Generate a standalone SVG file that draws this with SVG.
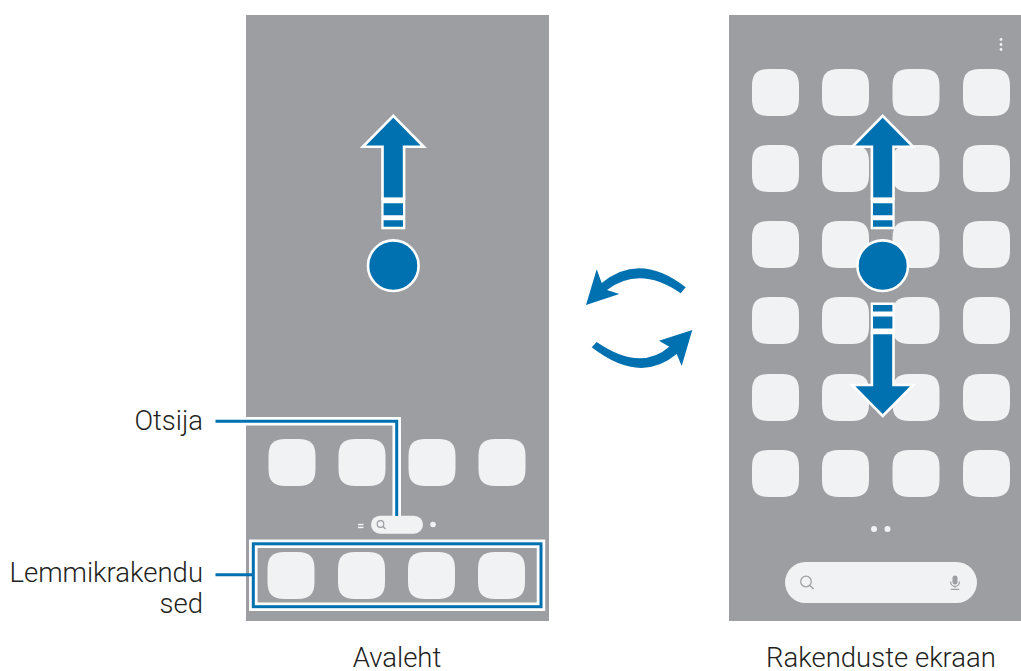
<svg xmlns="http://www.w3.org/2000/svg" width="1021" height="671" viewBox="0 0 1021 671">
<style>
.panel{fill:#9d9ea2}
.ic{fill:#f1f2f4}
.dot{fill:#f1f2f4}
.b{fill:#0071b0}
.halo{fill:none;stroke:#fff;stroke-width:8.5}
.line{fill:none;stroke:#0071b0;stroke-width:3}
.ar{fill:#0071b0;stroke:#fff;stroke-width:2.6}
.t{font-family:Roboto,"Noto Sans",sans-serif;font-size:27.5px;font-weight:300;fill:#231f20}
.g{fill:none;stroke:#9d9ea2;stroke-width:1.2}
</style>
<defs>
<path id="app" d="M17 0H30C42 0 47 5 47 17V30C47 42 42 47 30 47H17C5 47 0 42 0 30V17C0 5 5 0 17 0Z"/>
<g id="up">
<path class="ar" d="M0 0L30.500 31H10.800V83H-10.800V31H-30.500Z" stroke-linejoin="miter"/>
<path fill="#fff" d="M-12 82H12V113.500H-12Z"/>
<path class="b" d="M-9.700 87.500H9.700V99.500H-9.700ZM-9.700 104.500H9.700V111H-9.700Z"/>
</g>
</defs>
<g id="home-screen">
<rect class="panel" x="246" y="15" width="303" height="606"/>
<use href="#app" class="ic" x="268.500" y="439"/>
<use href="#app" class="ic" x="338.500" y="439"/>
<use href="#app" class="ic" x="408.500" y="439"/>
<use href="#app" class="ic" x="478.500" y="439"/>
<use href="#app" class="ic" x="267.500" y="552"/>
<use href="#app" class="ic" x="338" y="552"/>
<use href="#app" class="ic" x="408" y="552"/>
<use href="#app" class="ic" x="478" y="552"/>
<rect class="dot" x="358" y="523.800" width="5.500" height="1.500"/>
<rect class="dot" x="358" y="526.700" width="5.500" height="1.500"/>
<rect class="ic" x="371" y="515.700" width="52" height="18" rx="9"/>
<circle class="g" cx="380.500" cy="524" r="3.300"/>
<path class="g" d="M383 526.500L385.500 529"/>
<circle class="dot" cx="433" cy="524.500" r="2.800"/>
</g>
<g id="apps-screen">
<rect class="panel" x="729" y="15" width="292" height="606"/>
<use href="#app" class="ic" x="752" y="69"/><use href="#app" class="ic" x="822" y="69"/><use href="#app" class="ic" x="892.500" y="69"/><use href="#app" class="ic" x="963" y="69"/>
<use href="#app" class="ic" x="752" y="145"/><use href="#app" class="ic" x="822" y="145"/><use href="#app" class="ic" x="892.500" y="145"/><use href="#app" class="ic" x="963" y="145"/>
<use href="#app" class="ic" x="752" y="221"/><use href="#app" class="ic" x="822" y="221"/><use href="#app" class="ic" x="892.500" y="221"/><use href="#app" class="ic" x="963" y="221"/>
<use href="#app" class="ic" x="752" y="297"/><use href="#app" class="ic" x="822" y="297"/><use href="#app" class="ic" x="892.500" y="297"/><use href="#app" class="ic" x="963" y="297"/>
<use href="#app" class="ic" x="752" y="374"/><use href="#app" class="ic" x="822" y="374"/><use href="#app" class="ic" x="892.500" y="374"/><use href="#app" class="ic" x="963" y="374"/>
<use href="#app" class="ic" x="752" y="450"/><use href="#app" class="ic" x="822" y="450"/><use href="#app" class="ic" x="892.500" y="450"/><use href="#app" class="ic" x="963" y="450"/>
<circle class="dot" cx="1001" cy="39.500" r="1.400"/><circle class="dot" cx="1001" cy="44.500" r="1.400"/><circle class="dot" cx="1001" cy="49.500" r="1.400"/>
<circle class="dot" cx="874" cy="529" r="3"/><circle class="dot" cx="887.500" cy="529" r="3"/>
<rect class="ic" x="785" y="562" width="192" height="41" rx="20.500"/>
<circle class="g" cx="806" cy="581.500" r="5.300"/>
<path class="g" d="M810 585.500L813.500 589"/>
<rect x="952.500" y="575.500" width="5" height="9" rx="2.500" fill="#9d9ea2"/>
<path class="g" d="M950.500 581.500C950.500 588 959.500 588 959.500 581.500M955 586V588M950.800 589.300H959.200" stroke-width="1"/>
</g>
<g id="gesture-home">
<use href="#up" x="393.300" y="115.800"/>
<circle class="ar" cx="393.300" cy="265.700" r="25.300"/>
</g>
<g id="gesture-apps">
<use href="#up" x="882.700" y="115.800"/>
<circle class="ar" cx="882.700" cy="265.700" r="25.300"/>
<use href="#up" transform="translate(882.700 416) scale(1 -1)"/>
</g>
<g id="switch-arrows">
<path class="b" d="M596.700 269.300L601.700 283Q640 251.400 685.700 287.300L680.700 293.300Q640 265 607 290L619.300 294L586 305Z"/>
<path class="b" d="M692.300 330L659 340.700L669.300 346.700Q640 372 596.700 342L591.700 347.300Q640 384.800 676.700 354L681.700 366Z"/>
</g>
<g id="connectors">
<path class="halo" d="M246 421.300H396.700V516"/>
<rect class="halo" x="253.300" y="543.800" width="287.700" height="62.900"/>
<path class="line" d="M215.500 421.300H396.700V516"/>
<path class="line" d="M215.500 574.700H253.300"/>
<rect class="line" x="253.300" y="543.800" width="287.700" height="62.900"/>
</g>
<g id="labels">
<text class="t" x="203" y="429.500" text-anchor="end">Otsija</text>
<text class="t" x="203" y="581.700" text-anchor="end">Lemmikrakendu</text>
<text class="t" x="203" y="613.300" text-anchor="end">sed</text>
<text class="t" x="397" y="667" text-anchor="middle">Avaleht</text>
<text class="t" x="881" y="667" text-anchor="middle">Rakenduste ekraan</text>
</g>
</svg>
